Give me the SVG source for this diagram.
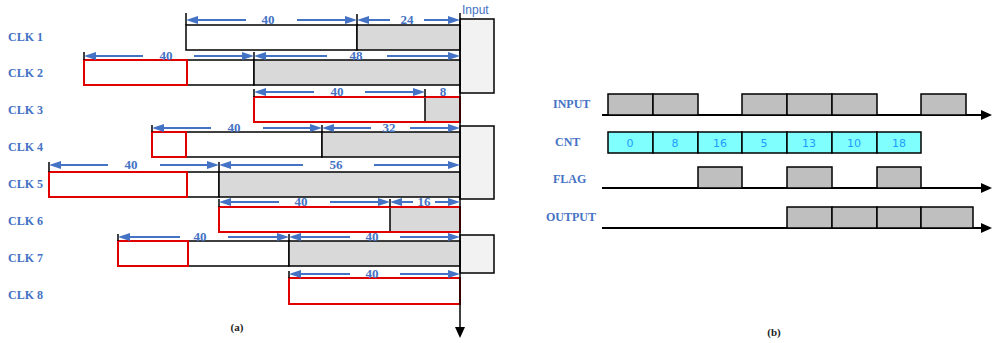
<svg xmlns="http://www.w3.org/2000/svg" width="993" height="343" viewBox="0 0 993 343">
  <style>
    .lbl { font-family: "Liberation Serif", "Times New Roman", serif; font-weight: bold; font-size: 12px; fill: #4472C4; }
    .num { font-family: "Liberation Serif", "Times New Roman", serif; font-weight: bold; font-size: 13px; fill: #4472C4; text-anchor: middle; }
    .cap { font-family: "Liberation Serif", "Times New Roman", serif; font-weight: bold; font-size: 11px; fill: #222; text-anchor: middle; }
    .inp { font-family: "Liberation Sans", Arial, sans-serif; font-size: 12px; fill: #4472C4; }
    .cnt { font-family: "DejaVu Sans", Verdana, sans-serif; font-size: 11px; fill: #1E9BFF; text-anchor: middle; }
    .wbox { fill: #FFFFFF; stroke: #000; stroke-width: 1.5; }
    .gbox { fill: #D9D9D9; stroke: #000; stroke-width: 1.5; }
    .rbox { fill: none; stroke: #E00000; stroke-width: 2; }
    .ibox { fill: #F2F2F2; stroke: #000; stroke-width: 1.5; }
    .tick { stroke: #000; stroke-width: 1.5; }
    .dim { stroke: #4472C4; stroke-width: 2; fill: none; marker-end: url(#blueHead); }
    .axis { stroke: #000; stroke-width: 2; fill: none; marker-end: url(#blackHead); }
    .sig { fill: #BFBFBF; stroke: #000; stroke-width: 1.5; }
    .cv { fill: #80FFFF; stroke: #000; stroke-width: 1.5; }
  </style>
  <defs>
    <marker id="blueHead" markerUnits="userSpaceOnUse" markerWidth="12" markerHeight="8" refX="8" refY="4" orient="auto">
      <path d="M0,0 L12,4 L0,8 z" fill="#4472C4"/>
    </marker>
    <marker id="blackHead" markerUnits="userSpaceOnUse" markerWidth="11" markerHeight="10" refX="6" refY="5" orient="auto">
      <path d="M0,0 L11,5 L0,10 z" fill="#000"/>
    </marker>
  </defs>

  <!-- (a) pipeline timing -->
  <g id="clk-labels">
    <text class="lbl" x="8" y="41">CLK 1</text>
    <text class="lbl" x="8" y="77">CLK 2</text>
    <text class="lbl" x="8" y="114">CLK 3</text>
    <text class="lbl" x="8" y="151">CLK 4</text>
    <text class="lbl" x="8" y="188">CLK 5</text>
    <text class="lbl" x="8" y="225">CLK 6</text>
    <text class="lbl" x="8" y="262">CLK 7</text>
    <text class="lbl" x="8" y="299">CLK 8</text>
  </g>

  <g id="input-blocks">
    <rect class="ibox" x="460" y="19" width="34" height="74"/>
    <rect class="ibox" x="460" y="126" width="34" height="73"/>
    <rect class="ibox" x="460" y="235" width="34" height="38"/>
    <text class="inp" x="462" y="14">Input</text>
  </g>

  <g id="row1">
    <rect class="wbox" x="186" y="25" width="171" height="25"/>
    <rect class="gbox" x="357" y="25" width="103" height="25"/>
    <line class="tick" x1="186" y1="13" x2="186" y2="25"/>
    <line class="tick" x1="357" y1="14" x2="357" y2="25"/>
  </g>
  <g id="row2">
    <rect class="wbox" x="84" y="60" width="170" height="25"/>
    <rect class="gbox" x="254" y="60" width="206" height="25"/>
    <rect class="rbox" x="84" y="60" width="103" height="25"/>
    <line class="tick" x1="84" y1="52" x2="84" y2="60"/>
    <line class="tick" x1="254" y1="52" x2="254" y2="60"/>
  </g>
  <g id="row3">
    <rect class="gbox" x="425" y="97" width="35" height="25"/>
    <rect class="rbox" x="254" y="97" width="206" height="25"/>
    <line class="tick" x1="254" y1="89" x2="254" y2="97"/>
    <line class="tick" x1="425" y1="89" x2="425" y2="97"/>
  </g>
  <g id="row4">
    <rect class="wbox" x="152" y="132" width="170" height="25"/>
    <rect class="gbox" x="322" y="132" width="138" height="25"/>
    <rect class="rbox" x="152" y="132" width="34" height="25"/>
    <line class="tick" x1="152" y1="125" x2="152" y2="132"/>
    <line class="tick" x1="322" y1="125" x2="322" y2="132"/>
  </g>
  <g id="row5">
    <rect class="wbox" x="49" y="172" width="170" height="25"/>
    <rect class="gbox" x="219" y="172" width="241" height="25"/>
    <rect class="rbox" x="49" y="172" width="138" height="25"/>
    <line class="tick" x1="49" y1="162" x2="49" y2="172"/>
    <line class="tick" x1="219" y1="162" x2="219" y2="172"/>
  </g>
  <g id="row6">
    <rect class="gbox" x="390" y="207" width="70" height="25"/>
    <rect class="rbox" x="219" y="207" width="241" height="25"/>
    <line class="tick" x1="219" y1="199" x2="219" y2="207"/>
    <line class="tick" x1="390" y1="199" x2="390" y2="207"/>
  </g>
  <g id="row7">
    <rect class="wbox" x="118" y="241" width="171" height="25"/>
    <rect class="gbox" x="289" y="241" width="171" height="25"/>
    <rect class="rbox" x="118" y="241" width="70" height="25"/>
    <line class="tick" x1="118" y1="234" x2="118" y2="241"/>
    <line class="tick" x1="289" y1="234" x2="289" y2="241"/>
  </g>
  <g id="row8">
    <rect class="rbox" x="289" y="278" width="171" height="26"/>
    <line class="tick" x1="289" y1="271" x2="289" y2="278"/>
  </g>

  <g id="connectors">
    <!-- time axis of (a) -->
    <line x1="460" y1="13" x2="460" y2="333" stroke="#000" stroke-width="1.5" marker-end="url(#blackHead)"/>
    <!-- dimension arrows -->
    <line class="dim" x1="246" y1="20" x2="190" y2="20"/><line class="dim" x1="297" y1="20" x2="353" y2="20"/>
    <line class="dim" x1="390" y1="20" x2="361" y2="20"/><line class="dim" x1="424" y1="20" x2="456" y2="20"/>
    <line class="dim" x1="143" y1="56" x2="88" y2="56"/><line class="dim" x1="194" y1="56" x2="250" y2="56"/>
    <line class="dim" x1="327" y1="56" x2="258" y2="56"/><line class="dim" x1="387" y1="56" x2="456" y2="56"/>
    <line class="dim" x1="314" y1="92" x2="258" y2="92"/><line class="dim" x1="365" y1="92" x2="421" y2="92"/>
    <line class="dim" x1="211" y1="128" x2="156" y2="128"/><line class="dim" x1="263" y1="128" x2="318" y2="128"/>
    <line class="dim" x1="371" y1="128" x2="326" y2="128"/><line class="dim" x1="410" y1="128" x2="456" y2="128"/>
    <line class="dim" x1="108" y1="165" x2="53" y2="165"/><line class="dim" x1="160" y1="165" x2="215" y2="165"/>
    <line class="dim" x1="303" y1="165" x2="223" y2="165"/><line class="dim" x1="374" y1="165" x2="456" y2="165"/>
    <line class="dim" x1="279" y1="202" x2="223" y2="202"/><line class="dim" x1="330" y1="202" x2="386" y2="202"/>
    <line class="dim" x1="413" y1="202" x2="394" y2="202"/><line class="dim" x1="435" y1="202" x2="456" y2="202"/>
    <line class="dim" x1="180" y1="237" x2="122" y2="237"/><line class="dim" x1="228" y1="237" x2="285" y2="237"/>
    <line class="dim" x1="350" y1="237" x2="293" y2="237"/><line class="dim" x1="400" y1="237" x2="456" y2="237"/>
    <line class="dim" x1="350" y1="274" x2="293" y2="274"/><line class="dim" x1="400" y1="274" x2="456" y2="274"/>
    <!-- signal axes of (b) -->
    <line class="axis" x1="602" y1="115" x2="987" y2="115"/>
    <line class="axis" x1="602" y1="188" x2="987" y2="188"/>
    <line class="axis" x1="602" y1="228" x2="987" y2="228"/>
  </g>

  <g id="dim-values">
    <text class="num" x="268" y="24">40</text>
    <text class="num" x="407" y="24">24</text>
    <text class="num" x="166" y="60">40</text>
    <text class="num" x="356" y="60">48</text>
    <text class="num" x="337" y="96">40</text>
    <text class="num" x="443" y="96">8</text>
    <text class="num" x="234" y="132">40</text>
    <text class="num" x="389" y="132">32</text>
    <text class="num" x="131" y="169">40</text>
    <text class="num" x="336" y="169">56</text>
    <text class="num" x="301" y="206">40</text>
    <text class="num" x="424" y="206">16</text>
    <text class="num" x="200" y="241">40</text>
    <text class="num" x="372" y="241">40</text>
    <text class="num" x="372" y="278">40</text>
  </g>

  <text class="cap" x="237" y="331">(a)</text>

  <!-- (b) control signals -->
  <g id="sig-labels">
    <text class="lbl" x="553" y="108">INPUT</text>
    <text class="lbl" x="555" y="146">CNT</text>
    <text class="lbl" x="553" y="183">FLAG</text>
    <text class="lbl" x="546" y="221">OUTPUT</text>
  </g>

  <g id="input-signal">
    <rect class="sig" x="608" y="94" width="45" height="21"/>
    <rect class="sig" x="653" y="94" width="45" height="21"/>
    <rect class="sig" x="742" y="94" width="45" height="21"/>
    <rect class="sig" x="787" y="94" width="45" height="21"/>
    <rect class="sig" x="832" y="94" width="45" height="21"/>
    <rect class="sig" x="921" y="94" width="45" height="21"/>
  </g>

  <g id="cnt-signal">
    <rect class="cv" x="608" y="132" width="45" height="21"/>
    <rect class="cv" x="653" y="132" width="45" height="21"/>
    <rect class="cv" x="698" y="132" width="44" height="21"/>
    <rect class="cv" x="742" y="132" width="45" height="21"/>
    <rect class="cv" x="787" y="132" width="45" height="21"/>
    <rect class="cv" x="832" y="132" width="45" height="21"/>
    <rect class="cv" x="877" y="132" width="44" height="21"/>
    <text class="cnt" x="630" y="147">0</text>
    <text class="cnt" x="675" y="147">8</text>
    <text class="cnt" x="720" y="147">16</text>
    <text class="cnt" x="764" y="147">5</text>
    <text class="cnt" x="809" y="147">13</text>
    <text class="cnt" x="854" y="147">10</text>
    <text class="cnt" x="899" y="147">18</text>
  </g>

  <g id="flag-signal">
    <rect class="sig" x="698" y="167" width="44" height="21"/>
    <rect class="sig" x="787" y="167" width="45" height="21"/>
    <rect class="sig" x="877" y="167" width="44" height="21"/>
  </g>

  <g id="output-signal">
    <rect class="sig" x="787" y="207" width="45" height="21"/>
    <rect class="sig" x="832" y="207" width="45" height="21"/>
    <rect class="sig" x="877" y="207" width="44" height="21"/>
    <rect class="sig" x="921" y="207" width="52" height="21"/>
  </g>

  <text class="cap" x="774" y="336">(b)</text>
</svg>
